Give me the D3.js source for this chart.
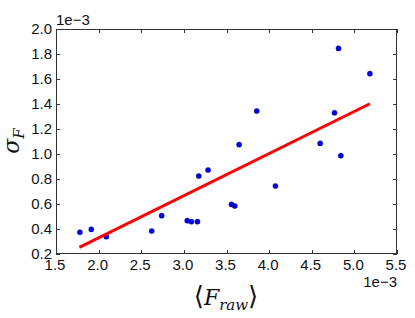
<!DOCTYPE html>
<html><head><meta charset="utf-8">
<script src="https://cdn.jsdelivr.net/npm/d3@7"></script>
<style>body{margin:0;background:#fff}svg{display:block}</style>
</head><body><svg id="c" width="415" height="318"></svg>
<script>
const xVals = [1.78,1.914,2.09,2.623,2.74,3.04,3.088,3.159,3.175,3.284,3.558,3.597,3.648,3.855,4.074,4.599,4.767,4.814,4.841,5.182];
const yVals = [0.374,0.397,0.339,0.384,0.507,0.467,0.459,0.459,0.824,0.872,0.597,0.584,1.075,1.344,0.744,1.085,1.33,1.845,0.987,1.643];
const fitX = [1.774,5.182];
const fitY = [0.253,1.402];
const xTicks = [1.5,2.0,2.5,3.0,3.5,4.0,4.5,5.0,5.5];
const yTicks = [0.2,0.4,0.6,0.8,1.0,1.2,1.4,1.6,1.8,2.0];

const svg = d3.select("#c");
const L=56,R=397,T=29,B=254;
const x = d3.scaleLinear().domain([1.5,5.5]).range([L,R]);
const y = d3.scaleLinear().domain([0.2,2.0]).range([B,T]);
const font = "'Liberation Sans', Arial, sans-serif";

const tl=4;
const g = svg.append("g").attr("stroke","#333").attr("stroke-width",1);
xTicks.forEach(t=>{
  const px=Math.round(x(t))+0.5;
  g.append("line").attr("x1",px).attr("x2",px).attr("y1",B).attr("y2",B-tl);
  g.append("line").attr("x1",px).attr("x2",px).attr("y1",T).attr("y2",T+tl);
});
yTicks.forEach(t=>{
  const py=Math.round(y(t))+0.5;
  g.append("line").attr("x1",L).attr("x2",L+tl).attr("y1",py).attr("y2",py);
  g.append("line").attr("x1",R).attr("x2",R-tl).attr("y1",py).attr("y2",py);
});

svg.append("g").selectAll("text").data(xTicks).join("text")
  .attr("x",d=>x(d)-1).attr("y",270).attr("text-anchor","middle")
  .attr("font-family",font).attr("font-size",15).attr("fill","#111")
  .text(d=>d.toFixed(1));
svg.append("g").selectAll("text").data(yTicks).join("text")
  .attr("x",L-4).attr("y",d=>y(d)+4.5).attr("text-anchor","end")
  .attr("font-family",font).attr("font-size",15).attr("fill","#111")
  .text(d=>d.toFixed(1));

svg.append("text").attr("x",L).attr("y",25).attr("font-family",font).attr("font-size",15).attr("fill","#111").text("1e\u22123");
svg.append("text").attr("x",R).attr("y",287).attr("text-anchor","end").attr("font-family",font).attr("font-size",15).attr("fill","#111").text("1e\u22123");

svg.append("g").selectAll("circle").data(xVals.map((v,i)=>[v,yVals[i]])).join("circle")
  .attr("cx",d=>x(d[0])).attr("cy",d=>y(d[1])).attr("r",2.6)
  .attr("fill","#0000ee").attr("stroke","#000066").attr("stroke-width",0.4);

svg.append("line").attr("x1",x(fitX[0])).attr("y1",y(fitY[0])).attr("x2",x(fitX[1])).attr("y2",y(fitY[1]))
  .attr("stroke","#ff0000").attr("stroke-width",3);

svg.append("rect").attr("x",L+0.5).attr("y",T+0.5).attr("width",R-L-1).attr("height",B-T-1)
  .attr("fill","none").attr("stroke","#333").attr("stroke-width",1);

const yl = svg.append("text").attr("transform","translate(19,141) rotate(-90)")
  .attr("text-anchor","middle").attr("font-family","'DejaVu Serif', serif").attr("font-size",22).attr("fill","#111");
yl.append("tspan").attr("font-style","italic").text("\u03C3");
yl.append("tspan").attr("font-style","italic").attr("font-size",15).attr("dy",5).text("F");

const xl = svg.append("text").attr("x",226).attr("y",305).attr("text-anchor","middle")
  .attr("font-family","'DejaVu Serif', serif").attr("font-size",22).attr("fill","#111");
xl.append("tspan").attr("font-family","'DejaVu Sans', sans-serif").attr("font-size",26).text("\u27E8");
xl.append("tspan").attr("font-style","italic").text("F");
xl.append("tspan").attr("font-style","italic").attr("font-size",15).attr("dy",5).text("raw");
xl.append("tspan").attr("font-family","'DejaVu Sans', sans-serif").attr("font-size",26).attr("dy",-5).text("\u27E9");
</script></body></html>
